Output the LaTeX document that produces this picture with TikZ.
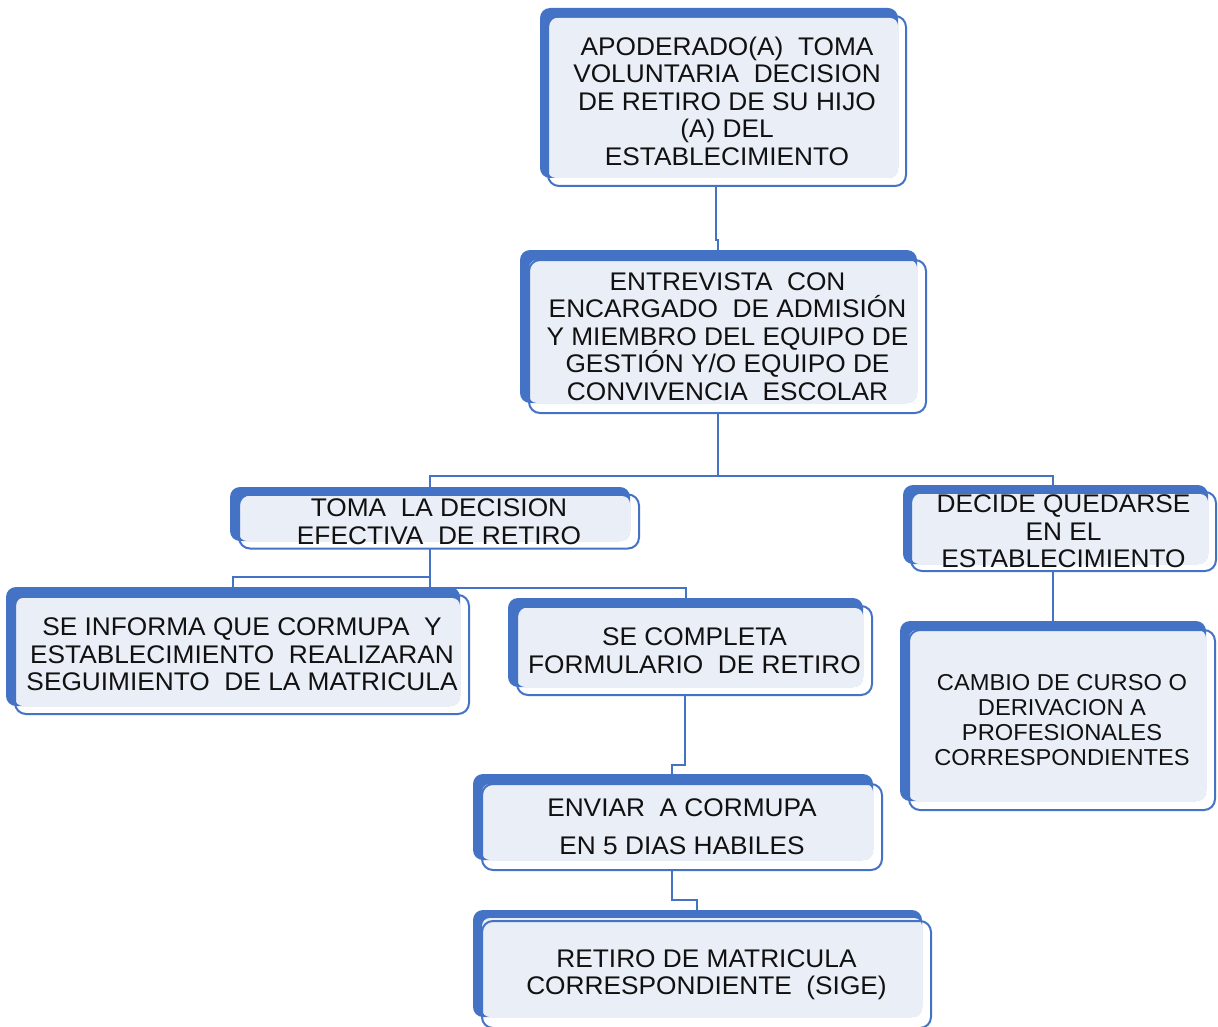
\documentclass[tikz,border=0pt]{standalone}
\usepackage{fontspec}
\setmainfont[FakeStretch=1.03]{Liberation Sans}
\usetikzlibrary{backgrounds}
\definecolor{boxblue}{HTML}{4472C4}
\definecolor{boxlight}{HTML}{E9EEF7}
\definecolor{txt}{HTML}{111111}
\tikzset{
  frontbox/.style={draw=boxblue, line width=2pt, rounded corners=11pt, inner sep=0pt, outer sep=0pt, align=center, text=txt, font=\fontsize{25.5}{27.5}\selectfont},
  conn/.style={draw=boxblue, line width=2pt}
}
\newcommand\flowbox[9]{%
  \fill[boxblue, rounded corners=10pt] (#2,#3) rectangle (#4,#5);
  \fill[boxlight, rounded corners=8pt] ({#2+#6},{#3+#7}) rectangle (#4,#5);
  \node[frontbox, minimum width={(#4-#2)*1pt}, minimum height={(#5-#3)*1pt}, #9] (#1) at ({(#2+#4)/2+#6},{(#3+#5)/2+#7}) {#8};
}
\begin{document}
\begin{tikzpicture}[x=1pt,y=-1pt]
\useasboundingbox (0,0) rectangle (1218,1027);
\flowbox{top}{540}{8}{898}{178}{8}{10}{APODERADO(A)~ TOMA\\VOLUNTARIA~ DECISION\\DE RETIRO DE SU HIJO\\(A) DEL\\ESTABLECIMIENTO}{yshift=2pt}
\flowbox{entre}{520}{250}{917}{403}{9}{10}{ENTREVISTA~ CON\\ENCARGADO~ DE ADMISIÓN\\Y MIEMBRO DEL EQUIPO DE\\GESTIÓN Y/O EQUIPO DE\\CONVIVENCIA~ ESCOLAR}{}
\flowbox{toma}{230}{487}{630}{541}{9}{9}{TOMA~ LA DECISION\\EFECTIVA~ DE RETIRO}{yshift=1.5pt}
\flowbox{decide}{903}{485}{1208}{564}{8}{9}{DECIDE QUEDARSE\\EN EL\\ESTABLECIMIENTO}{yshift=2pt}
\flowbox{info}{6}{587}{460}{706}{9}{11}{SE INFORMA QUE CORMUPA~ Y\\ESTABLECIMIENTO~ REALIZARAN\\SEGUIMIENTO~ DE LA MATRICULA}{yshift=3pt}
\flowbox{compl}{508}{598}{863}{687}{9}{10}{SE COMPLETA\\FORMULARIO~ DE RETIRO}{yshift=2pt}
\flowbox{cambio}{900}{621}{1206}{801}{9}{9}{CAMBIO DE CURSO O\\DERIVACION A\\PROFESIONALES\\CORRESPONDIENTES}{font=\fontsize{23}{25}\selectfont}
\flowbox{enviar}{473}{774}{873}{860}{9}{10}{ENVIAR~ A CORMUPA\\EN 5 DIAS HABILES}{font=\fontsize{25.5}{38}\selectfont}
\flowbox{retiro}{473}{910}{922}{1017}{9}{8}{RETIRO DE MATRICULA\\CORRESPONDIENTE~ (SIGE)}{yshift=-3pt}
\begin{pgfonlayer}{background}
\draw[conn] (716,0 |- top.south) -- (716,240) -- (718,240) -- (718,0 |- entre.north);
\draw[conn] (718,0 |- entre.south) -- (718,476);
\draw[conn] (430,0 |- toma.north) -- (430,476) -- (1053,476) -- (1053,0 |- decide.north);
\draw[conn] (430,0 |- toma.south) -- (430,588) -- (686,588) -- (686,0 |- compl.north);
\draw[conn] (430,577) -- (233,577) -- (233,0 |- info.north);
\draw[conn] (1053,0 |- decide.south) -- (1053,0 |- cambio.north);
\draw[conn] (685,0 |- compl.south) -- (685,765) -- (672,765) -- (672,0 |- enviar.north);
\draw[conn] (672,0 |- enviar.south) -- (672,900) -- (697,900) -- (697,0 |- retiro.north);
\end{pgfonlayer}
\end{tikzpicture}
\end{document}
